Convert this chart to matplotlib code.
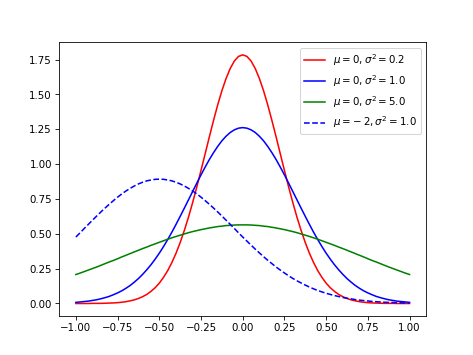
import matplotlib
matplotlib.use("Agg")
import matplotlib.pyplot as plt
import numpy as np

# x sample grid, -1 .. 1 in steps of 0.025
x = np.round(np.arange(-1.0, 1.0001, 0.025), 3)

# values (81 points each)
red = [0.000, 0.000, 0.000, 0.000, 0.001, 0.001, 0.001, 0.002, 0.003, 0.004,
       0.006, 0.009, 0.013, 0.019, 0.026, 0.036, 0.049, 0.065, 0.087, 0.113,
       0.146, 0.187, 0.235, 0.293, 0.360, 0.437, 0.524, 0.620, 0.725, 0.837,
       0.955, 1.075, 1.196, 1.313, 1.425, 1.526, 1.614, 1.686, 1.740, 1.773,
       1.784,
       1.773, 1.740, 1.686, 1.614, 1.526, 1.425, 1.313, 1.196, 1.075, 0.955,
       0.837, 0.725, 0.620, 0.524, 0.437, 0.360, 0.293, 0.235, 0.187, 0.146,
       0.113, 0.087, 0.065, 0.049, 0.036, 0.026, 0.019, 0.013, 0.009, 0.006,
       0.004, 0.003, 0.002, 0.001, 0.001, 0.001, 0.000, 0.000, 0.000, 0.000]
blue = [0.008, 0.011, 0.014, 0.017, 0.022, 0.027, 0.034, 0.042, 0.051, 0.063,
        0.076, 0.091, 0.109, 0.129, 0.153, 0.179, 0.209, 0.242, 0.278, 0.318,
        0.361, 0.408, 0.458, 0.511, 0.567, 0.625, 0.684, 0.744, 0.804, 0.864,
        0.923, 0.979, 1.033, 1.082, 1.127, 1.167, 1.200, 1.227, 1.246, 1.258,
        1.262,
        1.258, 1.246, 1.227, 1.200, 1.167, 1.127, 1.082, 1.033, 0.979, 0.923,
        0.864, 0.804, 0.744, 0.684, 0.625, 0.567, 0.511, 0.458, 0.408, 0.361,
        0.318, 0.278, 0.242, 0.209, 0.179, 0.153, 0.129, 0.109, 0.091, 0.076,
        0.063, 0.051, 0.042, 0.034, 0.027, 0.022, 0.017, 0.014, 0.011, 0.008]
green = [0.208, 0.218, 0.229, 0.240, 0.251, 0.262, 0.274, 0.286, 0.298, 0.309,
         0.321, 0.334, 0.346, 0.358, 0.370, 0.382, 0.394, 0.405, 0.417, 0.428,
         0.439, 0.450, 0.461, 0.471, 0.481, 0.490, 0.499, 0.508, 0.516, 0.523,
         0.530, 0.536, 0.542, 0.547, 0.552, 0.555, 0.559, 0.561, 0.563, 0.564,
         0.564,
         0.564, 0.563, 0.561, 0.559, 0.555, 0.552, 0.547, 0.542, 0.536, 0.530,
         0.523, 0.516, 0.508, 0.499, 0.490, 0.481, 0.471, 0.461, 0.450, 0.439,
         0.428, 0.417, 0.405, 0.394, 0.382, 0.370, 0.358, 0.346, 0.334, 0.321,
         0.309, 0.298, 0.286, 0.274, 0.262, 0.251, 0.240, 0.229, 0.218, 0.208]
dashed = [0.477, 0.507, 0.538, 0.568, 0.598, 0.628, 0.657, 0.685, 0.712, 0.738,
          0.763, 0.786, 0.807, 0.826, 0.843, 0.858, 0.870, 0.880, 0.886, 0.891,
          0.892, 0.891, 0.886, 0.880, 0.870, 0.858, 0.843, 0.826, 0.807, 0.786,
          0.763, 0.738, 0.712, 0.685, 0.657, 0.628, 0.598, 0.568, 0.538, 0.507,
          0.477,
          0.448, 0.419, 0.390, 0.363, 0.336, 0.310, 0.286, 0.262, 0.240, 0.219,
          0.199, 0.180, 0.163, 0.147, 0.132, 0.118, 0.105, 0.093, 0.083, 0.073,
          0.065, 0.057, 0.050, 0.043, 0.038, 0.033, 0.028, 0.024, 0.021, 0.018,
          0.015, 0.013, 0.011, 0.009, 0.008, 0.007, 0.006, 0.005, 0.004, 0.003]

labels = [r'$\mu=0, \sigma^2=0.2$', r'$\mu=0, \sigma^2=1.0$',
          r'$\mu=0, \sigma^2=5.0$', r'$\mu=-\:2, \sigma^2=1.0$']

fig = plt.figure(figsize=(6.4, 4.8), dpi=74)
plt.plot(x, red, 'r-', label=labels[0])
plt.plot(x, blue, 'b-', label=labels[1])
plt.plot(x, green, 'g-', label=labels[2])
plt.plot(x, dashed, 'b--', label=labels[3])
plt.legend(loc='upper right')
plt.savefig("out.png", dpi=74)
